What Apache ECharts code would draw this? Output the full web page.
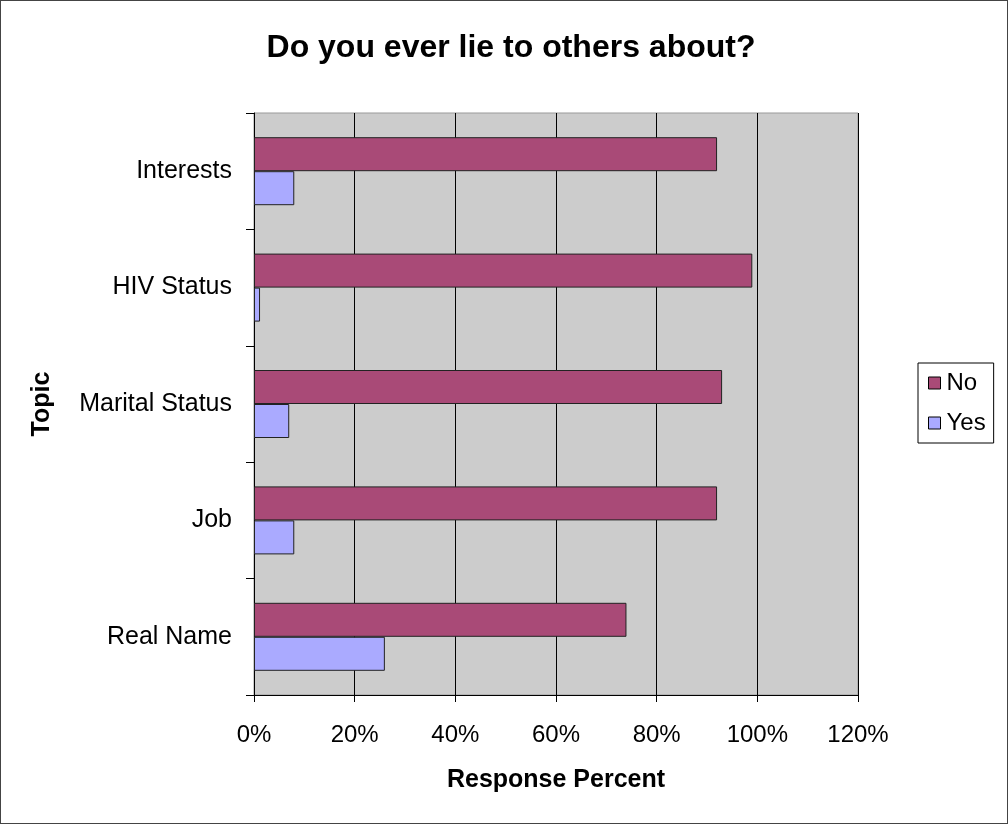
<!DOCTYPE html>
<html>
<head>
<meta charset="utf-8">
<script src="https://cdn.jsdelivr.net/npm/echarts@6/dist/echarts.min.js"></script>
<style>
html,body{margin:0;padding:0;background:#fff;}
#c{width:1006px;height:822px;border:1px solid #444;}
</style>
</head>
<body>
<div id="c"></div>
<script>
// Categories listed bottom-to-top (ECharts category y-axis starts at bottom)
const categories = ['Real Name', 'Job', 'Marital Status', 'HIV Status', 'Interests'];
const noValues = [74, 92, 93, 99, 92];
const yesValues = [26, 8, 7, 1.2, 8];
const xTicks = { min: 0, max: 120, interval: 20 };

const chart = echarts.init(document.getElementById('c'), null, { renderer: 'canvas' });
const font = 'Liberation Sans, Arial, sans-serif';
chart.setOption({
  animation: false,
  backgroundColor: '#ffffff',
  textStyle: { fontFamily: font },
  title: {
    text: 'Do you ever lie to others about?',
    left: 505, top: 26, textAlign: 'center',
    textStyle: { fontSize: 32, fontWeight: 'bold', color: '#000', fontFamily: font }
  },
  legend: {
    data: ['No', 'Yes'],
    orient: 'vertical',
    left: 917, top: 362,
    padding: [8, 8, 8, 10],
    itemGap: 16,
    itemWidth: 12, itemHeight: 12,
    icon: 'rect',
    borderColor: '#000', borderWidth: 1,
    itemStyle: { borderColor: '#000', borderWidth: 1 },
    textStyle: { fontSize: 24, color: '#000', fontFamily: font, padding: [0, 0, 0, 1] }
  },
  grid: {
    left: 253, right: 149, top: 112, bottom: 128,
    show: true, backgroundColor: '#cccccc', borderColor: '#999', borderWidth: 1,
    containLabel: false
  },
  xAxis: {
    type: 'value',
    min: xTicks.min, max: xTicks.max, interval: xTicks.interval,
    name: 'Response Percent',
    nameLocation: 'middle', nameGap: 73,
    nameTextStyle: { fontSize: 25, fontWeight: 'bold', color: '#000', fontFamily: font },
    axisLine: { show: true, lineStyle: { color: '#000', width: 1 } },
    axisTick: { show: true, length: 7, lineStyle: { color: '#000' } },
    axisLabel: { formatter: '{value}%', fontSize: 24, color: '#000', margin: 28, fontFamily: font },
    splitLine: { show: true, lineStyle: { color: '#000', width: 1 } }
  },
  yAxis: {
    type: 'category',
    data: categories,
    name: 'Topic',
    nameLocation: 'middle', nameGap: 199, nameRotate: 90,
    nameTextStyle: { fontSize: 25, fontWeight: 'bold', color: '#000', fontFamily: font },
    axisLine: { show: true, lineStyle: { color: '#000', width: 1 } },
    axisTick: { show: true, length: 8, lineStyle: { color: '#000' } },
    axisLabel: { fontSize: 25, color: '#000', margin: 22, fontFamily: font }
  },
  series: [
    {
      name: 'No', type: 'bar', data: noValues,
      barWidth: 34, barGap: '0%',
      itemStyle: { color: '#a94a77', borderColor: '#222', borderWidth: 1 }
    },
    {
      name: 'Yes', type: 'bar', data: yesValues,
      barWidth: 34, barGap: '0%',
      itemStyle: { color: '#aaaaff', borderColor: '#222', borderWidth: 1 }
    }
  ]
});
</script>
</body>
</html>
